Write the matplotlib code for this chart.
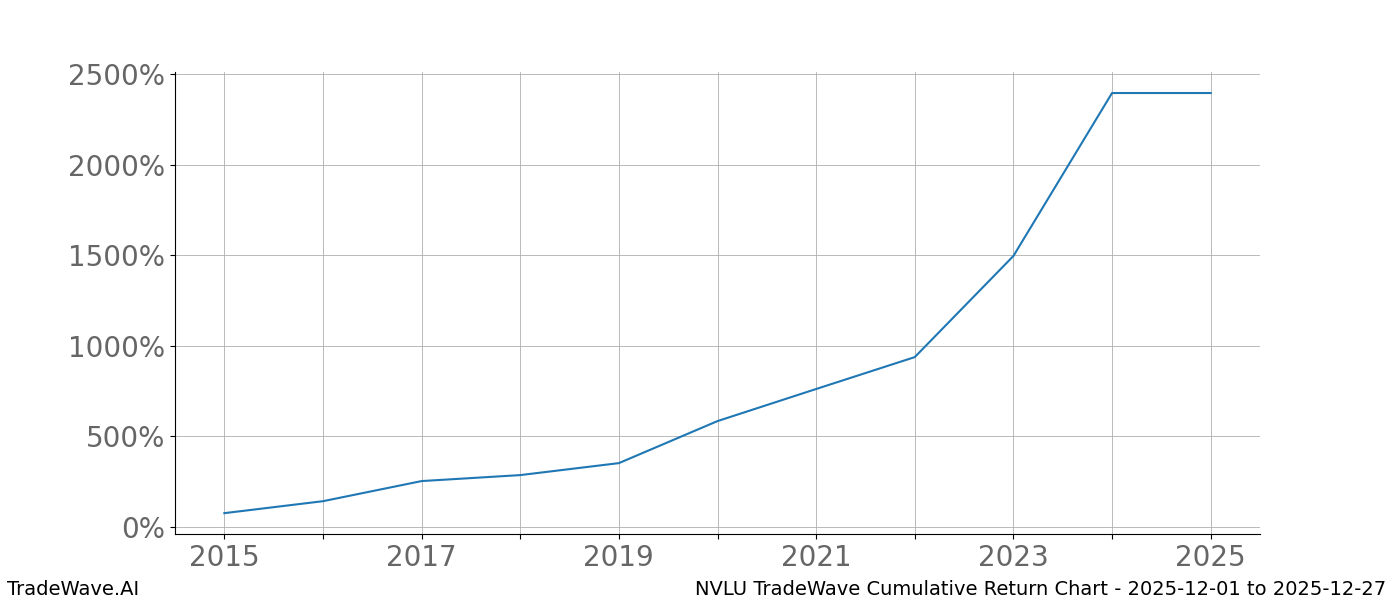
import matplotlib
matplotlib.use("Agg")
import matplotlib.pyplot as plt
from matplotlib.ticker import FuncFormatter

years = [2015, 2016, 2017, 2018, 2019, 2020, 2021, 2022, 2023, 2024, 2025]
returns = [77, 143, 254, 287, 353, 585, 762, 938, 1496, 2395, 2395]

fig = plt.figure(figsize=(14, 6), dpi=100)
ax = fig.add_axes([0.125, 0.11, 0.775, 0.77])
ax.plot(years, returns, color="#1f77b4", linewidth=1.5)
ax.set_xlim(2014.5, 2025.5)
ax.set_ylim(-38, 2511)
ax.set_xticks(years)
ax.set_xticklabels([str(y) if y % 2 == 1 else "" for y in years])
ax.set_yticks([0, 500, 1000, 1500, 2000, 2500])
ax.yaxis.set_major_formatter(FuncFormatter(lambda v, p: f"{int(v)}%"))
ax.grid(True, color="#b0b0b0", linewidth=0.6)
for s in ["top", "right"]:
    ax.spines[s].set_visible(False)
ax.tick_params(labelsize=20, labelcolor="#666666")
fig.text(0.005, 0.008, "TradeWave.AI", fontsize=14, ha="left")
fig.text(0.99, 0.008, "NVLU TradeWave Cumulative Return Chart - 2025-12-01 to 2025-12-27", fontsize=14, ha="right")
fig.savefig("out.png")
